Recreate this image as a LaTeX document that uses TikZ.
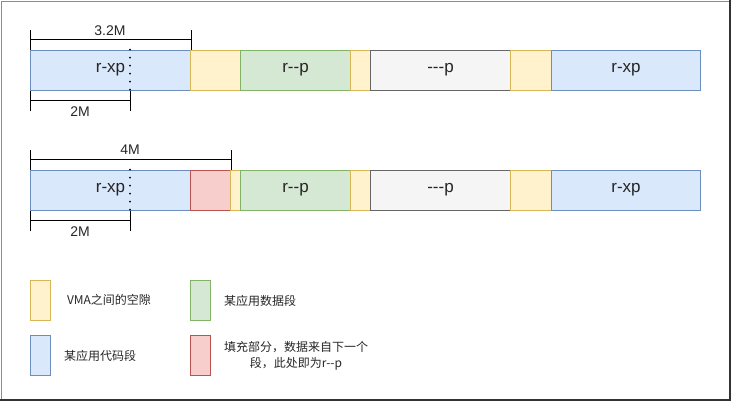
\documentclass[tikz,border=0pt]{standalone}
\usepackage{fontspec}
\setmainfont{Liberation Sans}[Ligatures=TeXOff]
\newfontfamily\cjk{Noto Sans CJK SC}
\usetikzlibrary{positioning}

\definecolor{codefill}{HTML}{DAE8FC}\definecolor{codeline}{HTML}{6C8EBF}
\definecolor{gapfill}{HTML}{FFF2CC}\definecolor{gapline}{HTML}{D6B656}
\definecolor{datafill}{HTML}{D5E8D4}\definecolor{dataline}{HTML}{82B366}
\definecolor{nonefill}{HTML}{F5F5F5}\definecolor{noneline}{HTML}{666666}
\definecolor{padfill}{HTML}{F8CECC}\definecolor{padline}{HTML}{B85450}

\tikzset{
  seg/.style={draw, line width=1pt, minimum height=40pt, inner sep=0pt,
    anchor=west, font=\fontsize{17}{20}\selectfont, text=black!85},
  codeseg/.style={seg, fill=codefill, draw=codeline},
  gapseg/.style={seg, fill=gapfill, draw=gapline},
  dataseg/.style={seg, fill=datafill, draw=dataline},
  noneseg/.style={seg, fill=nonefill, draw=noneline},
  padseg/.style={seg, fill=padfill, draw=padline},
  dimline/.style={line width=1pt},
  dimlabel/.style={font=\fontsize{14}{16}\selectfont, inner sep=0pt, text=black!85},
  dotline/.style={line width=2pt, line cap=round, dash pattern=on 0pt off 8pt},
  key/.style={draw, line width=1pt, minimum width=20pt, minimum height=40pt, inner sep=0pt},
  keytext/.style={font=\cjk\fontsize{12}{16}\selectfont, inner sep=0pt, text=black!85}
}

\begin{document}
\begin{tikzpicture}[x=1pt,y=-1pt]
\useasboundingbox (0,0) rectangle (732,402);

% frame
\draw[line width=1pt, black!45] (731,1) -- (1,1) -- (1,401);
\draw[line width=2pt, black!80] (730,0) -- (730,400) -- (0,400);

% first layout
\node[codeseg, minimum width=160pt] (c1) at (30,70) {r-xp};
\node[gapseg,  minimum width=50pt]  (g1) at (190,70) {};
\node[dataseg, minimum width=110pt] (d1) at (240,70) {r--p};
\node[gapseg,  minimum width=20pt]  (g2) at (350,70) {};
\node[noneseg, minimum width=140pt] (n1) at (370,70) {---p};
\node[gapseg,  minimum width=41pt]  (g3) at (510,70) {};
\node[codeseg, minimum width=149pt] (c2) at (551,70) {r-xp};

\draw[dotline] ([xshift=100pt]c1.north west) -- ([xshift=100pt]c1.south west);

\draw[dimline] (c1.north west) -- ++(0,-20);
\draw[dimline] (c1.north east) -- ++(0,-20);
\draw[dimline] ([yshift=10pt]c1.north west) -- ([yshift=10pt]c1.north east);
\node[dimlabel] (l32) at (110,31) {3.2M};

\draw[dimline] (c1.south west) -- ++(0,20);
\draw[dimline] ([xshift=100pt]c1.south west) -- ++(0,20);
\draw[dimline] ([yshift=-10pt]c1.south west) -- ([xshift=100pt,yshift=-10pt]c1.south west);
\node[dimlabel] (l2a) at (80,112) {2M};

% second layout
\node[codeseg, minimum width=160pt] (c3) at (30,190) {r-xp};
\node[padseg,  minimum width=40pt]  (p1) at (190,190) {};
\node[gapseg,  minimum width=10pt]  (g4) at (230,190) {};
\node[dataseg, minimum width=110pt] (d2) at (240,190) {r--p};
\node[gapseg,  minimum width=20pt]  (g5) at (350,190) {};
\node[noneseg, minimum width=140pt] (n2) at (370,190) {---p};
\node[gapseg,  minimum width=41pt]  (g6) at (510,190) {};
\node[codeseg, minimum width=149pt] (c4) at (551,190) {r-xp};

\draw[dotline] ([xshift=100pt]c3.north west) -- ([xshift=100pt]c3.south west);

\draw[dimline] (c3.north west) -- ++(0,-20);
\draw[dimline] (p1.north east) -- ++(0,-20);
\draw[dimline] ([yshift=10pt]c3.north west) -- ([yshift=10pt]p1.north east);
\node[dimlabel] (l4) at (130,150) {4M};

\draw[dimline] (c3.south west) -- ++(0,20);
\draw[dimline] ([xshift=100pt]c3.south west) -- ++(0,20);
\draw[dimline] ([yshift=-10pt]c3.south west) -- ([xshift=100pt,yshift=-10pt]c3.south west);
\node[dimlabel] (l2b) at (80,232) {2M};

% legend
\node[key, fill=gapfill, draw=gapline]   (kgap)  at (40,300) {};
\node[key, fill=datafill, draw=dataline] (kdata) at (200,300) {};
\node[key, fill=codefill, draw=codeline] (kcode) at (40,355) {};
\node[key, fill=padfill, draw=padline]   (kpad)  at (200,355) {};

\node[keytext] (tgap)  at (109,300) {VMA之间的空隙};
\node[keytext] (tdata) at (260,301) {某应用数据段};
\node[keytext] (tcode) at (100,356) {某应用代码段};
\node[keytext, align=center] (tpad) at (296,356) {填充部分，数据来自下一个\\段，此处即为r--p};
\end{tikzpicture}
\end{document}
